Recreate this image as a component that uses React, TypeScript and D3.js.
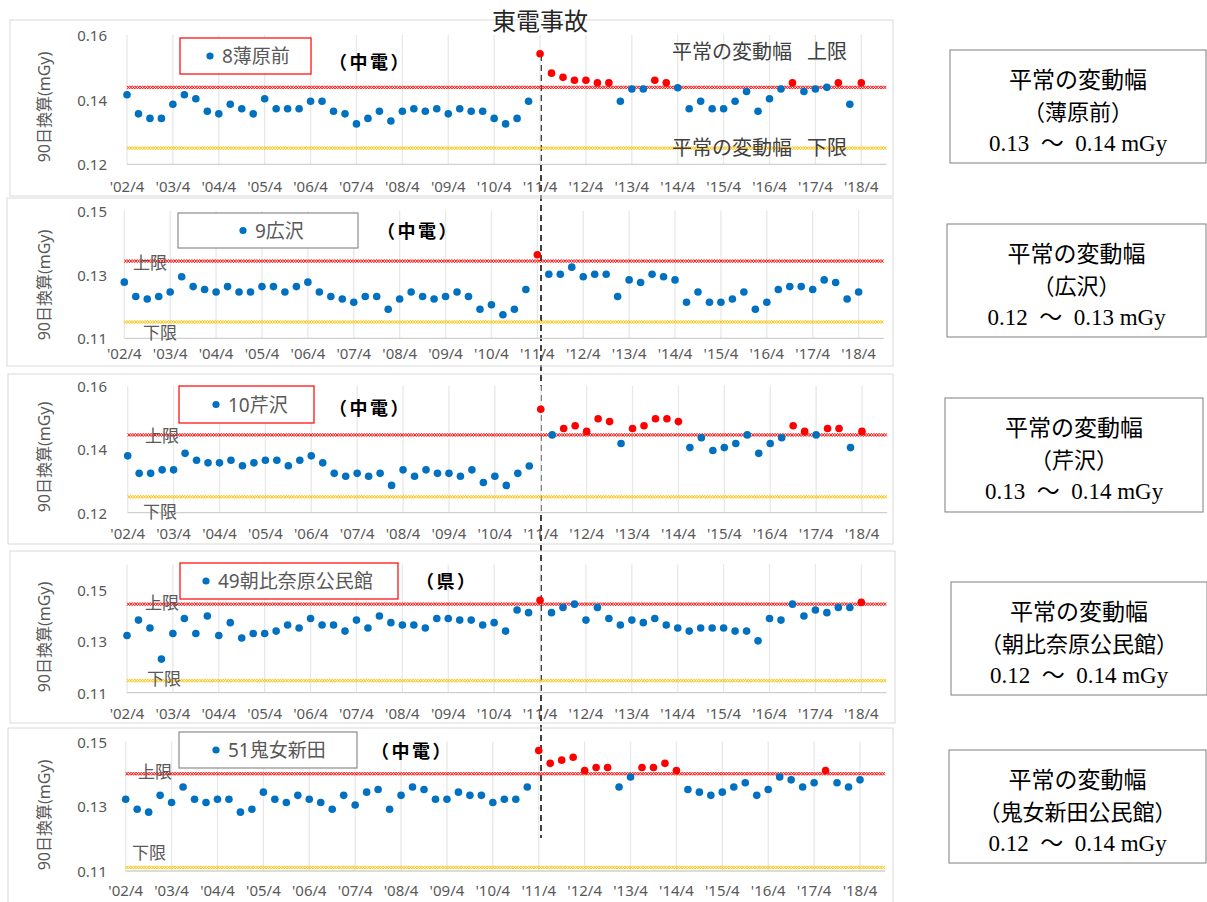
import * as d3 from "d3"

// quarterly readings, '02/4 .. '18/4 (65 points each)
const tickLabels = ["'02/4", "'03/4", "'04/4", "'05/4", "'06/4", "'07/4", "'08/4", "'09/4", "'10/4", "'11/4", "'12/4", "'13/4", "'14/4", "'15/4", "'16/4", "'17/4", "'18/4"]

const s8 = [
  0.1415, 0.1356, 0.1342, 0.1342, 0.1386, 0.1415, 0.1403, 0.1364, 0.1356, 0.1386, 0.1372, 0.1356,
  0.1403, 0.1372, 0.1372, 0.1372, 0.1395, 0.1395, 0.1364, 0.1356, 0.1325, 0.1342, 0.1364, 0.1334,
  0.1364, 0.1372, 0.1364, 0.1372, 0.1356, 0.1372, 0.1364, 0.1364, 0.1342, 0.1325, 0.1342, 0.1395,
  0.1542,
  0.1482, 0.1469, 0.146, 0.146, 0.1452, 0.1452, 0.1395, 0.1433, 0.1433, 0.146, 0.1452, 0.1437,
  0.1372, 0.1395, 0.1372, 0.1372, 0.1395, 0.1425, 0.1364, 0.1403, 0.1433, 0.1452, 0.1425, 0.1433,
  0.1438, 0.1452, 0.1386, 0.1452,
]
const s9 = [
  0.1276, 0.1231, 0.1223, 0.1231, 0.1245, 0.1293, 0.1262, 0.1253, 0.1245, 0.1262, 0.1245, 0.1245,
  0.1262, 0.1262, 0.1245, 0.1262, 0.1276, 0.1245, 0.1231, 0.1223, 0.1213, 0.1231, 0.1231, 0.1191,
  0.1223, 0.1245, 0.1231, 0.1223, 0.1231, 0.1245, 0.1231, 0.1191, 0.1205, 0.1174, 0.1191, 0.1253,
  0.1362,
  0.1301, 0.1301, 0.1323, 0.1293, 0.1301, 0.1301, 0.1231, 0.1283, 0.1275, 0.1301, 0.1293, 0.1283,
  0.1213, 0.1245, 0.1213, 0.1213, 0.1223, 0.1245, 0.1191, 0.1213, 0.1253, 0.1262, 0.1262, 0.1253,
  0.1283, 0.1275, 0.1223, 0.1245,
]
const s10 = [
  0.1379, 0.1324, 0.1324, 0.1335, 0.1335, 0.1387, 0.1365, 0.1357, 0.1357, 0.1365, 0.1348, 0.1357,
  0.1365, 0.1365, 0.1348, 0.1365, 0.1379, 0.1357, 0.1324, 0.1315, 0.1324, 0.1315, 0.1324, 0.1286,
  0.1335, 0.1315, 0.1335, 0.1324, 0.1324, 0.1315, 0.1335, 0.1295, 0.1315, 0.1286, 0.1324, 0.1347,
  0.1526,
  0.1445, 0.1465, 0.1474, 0.1456, 0.1496, 0.1487, 0.1418, 0.1465, 0.1474, 0.1496, 0.1496, 0.1487,
  0.1405, 0.1436, 0.1396, 0.1405, 0.1418, 0.1445, 0.1387, 0.1418, 0.1436, 0.1474, 0.1456, 0.1445,
  0.1465, 0.1465, 0.1405, 0.1456,
]
const s49 = [
  0.1323, 0.1383, 0.1352, 0.1231, 0.1331, 0.1389, 0.1331, 0.1399, 0.1323, 0.1373, 0.1313, 0.1331,
  0.1331, 0.134, 0.1364, 0.1352, 0.1389, 0.1364, 0.1364, 0.134, 0.1383, 0.1352, 0.1399, 0.1373,
  0.1364, 0.1364, 0.1352, 0.1389, 0.1389, 0.1383, 0.1383, 0.1364, 0.1373, 0.134, 0.1422, 0.1412,
  0.146,
  0.1412, 0.1432, 0.1445, 0.1383, 0.1432, 0.1389, 0.1364, 0.1383, 0.1373, 0.1389, 0.1364, 0.1352,
  0.134, 0.1352, 0.1352, 0.1352, 0.134, 0.134, 0.1302, 0.1389, 0.1383, 0.1445, 0.1399, 0.1422,
  0.1412, 0.1432, 0.1432, 0.1452,
]
const s51 = [
  0.1322, 0.1291, 0.1282, 0.1334, 0.1312, 0.136, 0.1322, 0.1312, 0.1322, 0.1322, 0.1282, 0.1291,
  0.1344, 0.1322, 0.1312, 0.1334, 0.1322, 0.1312, 0.1291, 0.1334, 0.1304, 0.1344, 0.1352, 0.1291,
  0.1334, 0.136, 0.1352, 0.1322, 0.1322, 0.1344, 0.1334, 0.1334, 0.1312, 0.1322, 0.1322, 0.136,
  0.1473,
  0.1433, 0.1443, 0.1452, 0.1411, 0.142, 0.142, 0.136, 0.1391, 0.142, 0.142, 0.1433, 0.1411,
  0.1352, 0.1344, 0.1334, 0.1344, 0.136, 0.1373, 0.1334, 0.1352, 0.1391, 0.1382, 0.136, 0.1373,
  0.1411, 0.1373, 0.136, 0.1382,
]

const seriesList = [s8, s9, s10, s49, s51]
const stationNames = ["8薄原前", "9広沢", "10芹沢", "49朝比奈原公民館", "51鬼女新田"]
const owners = ["（中電）", "（中電）", "（中電）", "（県）", "（中電）"]
const upperLimits = [0.1438, 0.1342, 0.1445, 0.1445, 0.1401]
const lowerLimits = [0.125, 0.1151, 0.125, 0.1147, 0.1111]
const yDomains = [[0.12, 0.16], [0.11, 0.15], [0.12, 0.16], [0.11, 0.16], [0.11, 0.15]]
const yTickValues = [[0.12, 0.14, 0.16], [0.11, 0.13, 0.15], [0.12, 0.14, 0.16], [0.11, 0.13, 0.15], [0.11, 0.13, 0.15]]
const rangeNames = ["（薄原前）", "（広沢）", "（芹沢）", "（朝比奈原公民館）", "（鬼女新田公民館）"]
const rangeTexts = ["0.13  ～  0.14 mGy", "0.12  ～  0.13 mGy", "0.13  ～  0.14 mGy", "0.12  ～  0.14 mGy", "0.12  ～  0.14 mGy"]

// panel placement
const panels = [
  { frame: [10, 20, 883, 176], top: 35, bottom: 164.3, x0: 127, labelY: 186, titleY: 107,
    legend: [180, 38, 131, 36], legendRed: true, dotX: 210, owner: [329, 62], up: null, low: null },
  { frame: [7, 198, 886, 168], top: 210.7, bottom: 338.3, x0: 124.3, labelY: 353, titleY: 285,
    legend: [178, 213, 180, 35], legendRed: false, dotX: 243, owner: [377, 231], up: [133, 262], low: [143, 332] },
  { frame: [8, 374, 885, 170], top: 385.7, bottom: 512.7, x0: 127.7, labelY: 533, titleY: 457,
    legend: [179, 386, 135, 37], legendRed: true, dotX: 216, owner: [329, 408], up: [145, 435], low: [143, 511] },
  { frame: [10, 551, 885, 172], top: 564.4, bottom: 692.7, x0: 127, labelY: 713, titleY: 637,
    legend: [180, 563, 218, 36], legendRed: true, dotX: 206, owner: [416, 581], up: [145, 602], low: [147, 678] },
  { frame: [8, 728, 885, 176], top: 741.7, bottom: 871, x0: 125.7, labelY: 890, titleY: 815,
    legend: [179, 732, 178, 36], legendRed: false, dotX: 216, owner: [371, 751], up: [138, 771], low: [132, 852] },
]

const rangeBoxes = [
  [950, 50, 256, 113],
  [947, 224, 259, 113],
  [945, 398, 258, 114],
  [951, 582, 256, 113],
  [949, 750, 257, 113],
]

const SANS = "'Noto Sans', 'Noto Sans CJK JP', sans-serif"
const SERIF = "'Liberation Serif', 'Noto Sans CJK JP', serif"
const GRAY = "#595959"
const BLUE = "#0070C0"
const RED = "#FF0000"

// chain-like wavy limit line
function wave(x1: number, x2: number, y: number) {
  const p = d3.path()
  const step = 2.6
  const a = 1.6
  for (const phase of [1, -1]) {
    let s = phase
    p.moveTo(x1, y - a * s)
    for (let x = x1 + step; x <= x2; x += step) {
      s = -s
      p.lineTo(x, y - a * s)
    }
  }
  return p.toString()
}

function Panel({ i }: { i: number }) {
  const L = panels[i]
  const data = seriesList[i]
  const x = d3.scaleLinear().domain([0, 64]).range([L.x0, L.x0 + 734.3])
  const y = d3.scaleLinear().domain(yDomains[i]).range([L.bottom, L.top])
  const xEnd = x(66.2)
  const [fx, fy, fw, fh] = L.frame
  const [lx, ly, lw, lh] = L.legend
  return (
    <g>
      <rect x={fx} y={fy} width={fw} height={fh} fill="none" stroke="#d9d9d9" strokeWidth={1} />
      {tickLabels.map((t, k) => (
        <g key={t}>
          <line x1={x(k * 4)} x2={x(k * 4)} y1={L.top} y2={L.bottom} stroke="#e8e8e8" strokeWidth={1.3} />
          <text x={x(k * 4)} y={L.labelY} textAnchor="middle" dominantBaseline="central" fontSize={15} fill={GRAY} fontFamily={SANS}>{t}</text>
        </g>
      ))}
      <line x1={x(0)} x2={xEnd} y1={L.bottom} y2={L.bottom} stroke="#d0d0d0" strokeWidth={1.3} />
      {yTickValues[i].map((v) => (
        <text key={v} x={107} y={y(v)} textAnchor="end" dominantBaseline="central" fontSize={15} fill={GRAY} fontFamily={SANS}>{d3.format(".2f")(v)}</text>
      ))}
      <text transform={`translate(44,${L.titleY}) rotate(-90)`} textAnchor="middle" dominantBaseline="central" fontSize={16} fill={GRAY} fontFamily={SANS}>90日換算(mGy)</text>
      <path d={wave(x(0), xEnd, y(upperLimits[i]))} fill="none" stroke={RED} strokeWidth={0.9} />
      <path d={wave(x(0), xEnd, y(lowerLimits[i]))} fill="none" stroke="#FFC000" strokeWidth={0.9} />
      {L.up && <text x={L.up[0]} y={L.up[1]} dominantBaseline="central" fontSize={17} fill={GRAY} fontFamily={SANS}>上限</text>}
      {L.low && <text x={L.low[0]} y={L.low[1]} dominantBaseline="central" fontSize={17} fill={GRAY} fontFamily={SANS}>下限</text>}
      <rect x={lx} y={ly} width={lw} height={lh} fill="#fff" stroke={L.legendRed ? RED : "#8c8c8c"} strokeWidth={1.2} />
      <circle cx={L.dotX} cy={ly + lh / 2} r={3.6} fill={BLUE} />
      <text x={L.dotX + 12} y={ly + lh / 2} dominantBaseline="central" fontSize={19} fill={GRAY} fontFamily={SANS}>{stationNames[i]}</text>
      <text x={L.owner[0]} y={L.owner[1]} dominantBaseline="central" fontSize={18} fontWeight="bold" fill="#000" fontFamily={SANS} letterSpacing={2.5}>{owners[i]}</text>
      {data.map((v, k) => (
        <circle key={k} cx={x(k)} cy={y(v)} r={3.8} fill={v > upperLimits[i] ? RED : BLUE} />
      ))}
    </g>
  )
}

export default function App() {
  const width = 1207
  const height = 902
  return (
    <svg width={width} height={height} style={{ position: "absolute", left: 0, top: 0, background: "#fff" }}>
      <rect width={width} height={height} fill="#fff" />
      <line x1={541} x2={541} y1={55} y2={838} stroke="#000" strokeWidth={1.5} strokeDasharray="6,4" />
      {panels.map((_, i) => (
        <Panel key={i} i={i} />
      ))}
      <text x={540} y={22} textAnchor="middle" dominantBaseline="central" fontSize={24} fill="#262626" fontFamily={SERIF}>東電事故</text>
      <text x={672} y={52} dominantBaseline="central" fontSize={20} fill="#404040" fontFamily={SERIF} style={{ whiteSpace: "pre" }}>平常の変動幅   上限</text>
      <text x={672} y={148} dominantBaseline="central" fontSize={20} fill="#404040" fontFamily={SERIF} style={{ whiteSpace: "pre" }}>平常の変動幅   下限</text>
      {rangeBoxes.map(([bx, by, bw, bh], i) => (
        <g key={i}>
          <rect x={bx} y={by} width={bw} height={bh} fill="#fff" stroke="#7f7f7f" strokeWidth={1} />
          <text x={bx + bw / 2} y={by + 30} textAnchor="middle" dominantBaseline="central" fontSize={23} fill="#000" fontFamily={SERIF}>平常の変動幅</text>
          <text x={bx + bw / 2} y={by + 62} textAnchor="middle" dominantBaseline="central" fontSize={22} fill="#000" fontFamily={SERIF}>{rangeNames[i]}</text>
          <text x={bx + bw / 2} y={by + 93} textAnchor="middle" dominantBaseline="central" fontSize={23} fill="#000" fontFamily={SERIF} style={{ whiteSpace: "pre" }}>{rangeTexts[i]}</text>
        </g>
      ))}
    </svg>
  )
}
